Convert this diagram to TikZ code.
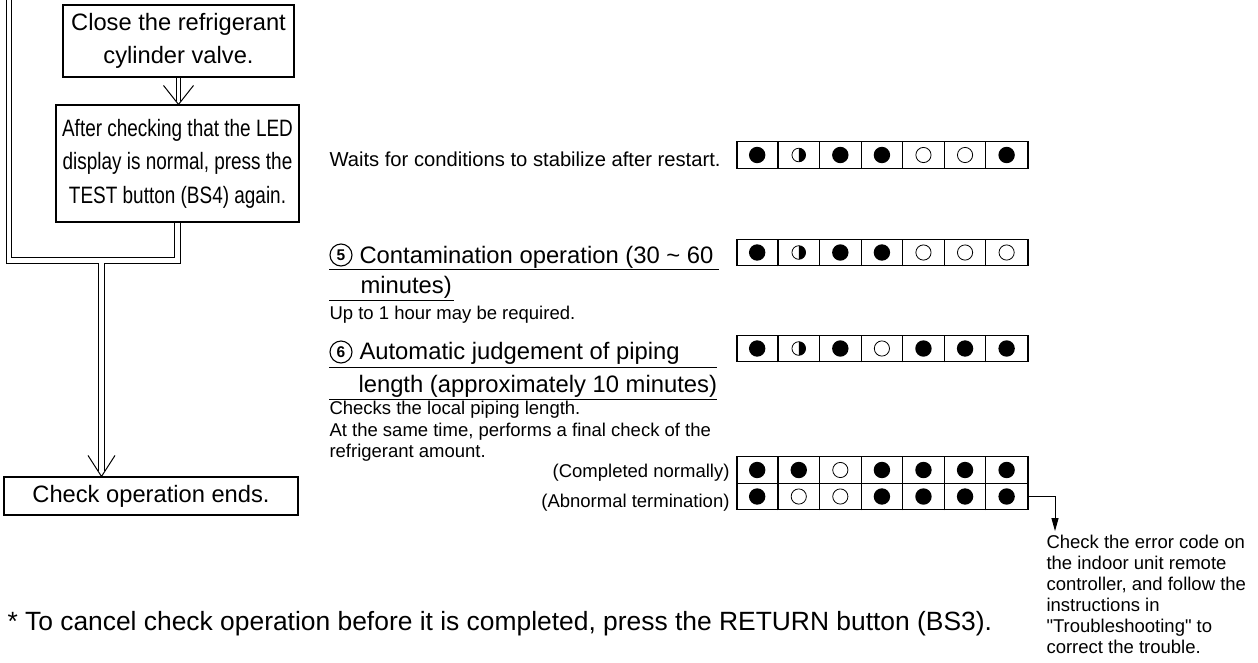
\documentclass[tikz,border=0pt]{standalone}
\usepackage{fontspec}
\setmainfont{Liberation Sans}
\newfontfamily\condfont[FakeStretch=0.8]{Liberation Sans}
\usetikzlibrary{calc,arrows.meta,backgrounds}
\newcommand\fsz[2]{\fontsize{#1}{#2}\selectfont}
\newcommand\ledcells[2]{%
  \foreach \s [count=\i] in {#2} {
    \coordinate (c) at ($(#1.west)+({41.571*(\i-0.5)},0)$);
    \ifnum\i<7 \draw[ledline] ($(#1.south west)+({41.571*\i},0)$) -- ($(#1.north west)+({41.571*\i},0)$);\fi
    \ifcase\s
      \draw[line width=0.8pt] (c) circle[radius=7.6pt];
    \or
      \fill (c) circle[radius=8.2pt];
    \or
      \draw[line width=0.8pt] (c) circle[radius=6.8pt];
      \fill (c) ++(0pt,6.8pt) arc[start angle=90,end angle=-90,radius=6.8pt] -- cycle;
    \fi
  }%
}
\tikzset{
  box/.style={draw, line width=1.1pt, inner sep=0pt, align=center, font=\fsz{23.7}{33}},
  txt/.style={inner sep=0pt, anchor=base west},
  txtr/.style={inner sep=0pt, anchor=base east},
  small/.style={font=\fsz{18.5}{21}},
  mid/.style={font=\fsz{23.8}{33}},
  ledrow/.style={draw, line width=1.2pt, minimum width=291pt, minimum height=26.6pt, inner sep=0pt},
  ledline/.style={line width=1.1pt},
  uline/.style={line width=1pt},
  circnum/.style={circle, draw, line width=1.1pt, minimum size=22pt, inner sep=0pt, font=\bfseries\fsz{15.5}{15.5}},
  vhead/.style={line width=1pt, line join=miter},
}
\begin{document}
\begin{tikzpicture}[x=1pt,y=-1pt,line width=1pt]
\useasboundingbox (0,0) rectangle (1258,662);

% flow boxes
\node[box, minimum width=231pt, minimum height=72pt] (b1) at (178.5,41) {Close the refrigerant\\cylinder valve.};
\node[box, minimum width=243pt, minimum height=117pt, font=\condfont\fsz{23.7}{33.5}] (b2) at (177.5,163.5) {After checking that the LED\\display is normal, press the\\TEST button (BS4) again.};
\node[box, minimum width=294pt, minimum height=38pt] (b3) at (151,496) {Check operation ends.};

% connectors
\coordinate (topL) at (9,-8);
\coordinate (cornerL) at (9,260.5);
\coordinate (jn) at (101.5,260.5);
\coordinate (cornerR) at (b2.south |- jn);
\coordinate (tip3) at (b3.north -| jn);
\coordinate (dEnd) at ($(tip3)+(0,-5)$);
\coordinate (tip2) at (b2.north -| b1.south);
\begin{scope}[on background layer]
  \draw[line width=6.6pt, line join=miter] (topL) -- (cornerL) -- (cornerR) -- (b2.south);
  \draw[line width=6.6pt] (jn) -- (dEnd);
  \draw[white, line width=4.6pt, line join=miter] (topL) -- (cornerL) -- (cornerR) -- (b2.south);
  \draw[white, line width=4.6pt] (jn) -- (dEnd);
  \draw[double, double distance=3.2pt, line width=0.9pt] (b1.south) -- ($(tip2)+(0,-3)$);
\end{scope}
\draw[vhead] ($(tip2)+(-15,-19)$) -- (tip2) -- ($(tip2)+(15,-19)$);
\draw[vhead] ($(tip3)+(-13.5,-21)$) -- (tip3) -- ($(tip3)+(13.5,-21)$);

% middle texts
\node[txt, font=\fsz{20.2}{21}] (wait) at (329,166) {Waits for conditions to stabilize after restart.};

\node[circnum] (c5) at (341,255) {5};
\node[txt, mid] (t5a) at (359,263) {Contamination operation (30 \textasciitilde\ 60};
\node[txt, mid] (t5b) at (360,293) {minutes)};
\draw[uline] (329,269) -- (719,269);
\draw[uline] (329,300) -- (454,300);
\node[txt, small] (t5c) at (329,319) {Up to 1 hour may be required.};

\node[circnum] (c6) at (341,352) {6};
\node[txt, mid] (t6a) at (359,359) {Automatic judgement of piping};
\node[txt, mid] (t6b) at (358,392) {length (approximately 10 minutes)};
\draw[uline] (329,367) -- (717,367);
\draw[uline] (329,399) -- (717,399);
\node[txt, small] (t6c) at (329,414) {Checks the local piping length.};
\node[txt, small] (t6d) at (329,436) {At the same time, performs a final check of the};
\node[txt, small] (t6e) at (329,457) {refrigerant amount.};
\node[txtr, small] (lnorm) at (730,477) {(Completed normally)};
\node[txtr, small] (labn) at (730,507) {(Abnormal termination)};

% LED rows
\node[ledrow] (r1) at (882.5,155) {};
\node[ledrow] (r2) at (882.5,252.5) {};
\node[ledrow] (r3) at (882.5,348.5) {};
\node[ledrow] (r4) at (882.5,470) {};
\node[ledrow] (r5) at (882.5,496.5) {};
\ledcells{r1}{1,2,1,1,0,0,1}
\ledcells{r2}{1,2,1,1,0,0,0}
\ledcells{r3}{1,2,1,0,1,1,1}
\ledcells{r4}{1,1,0,1,1,1,1}
\ledcells{r5}{1,0,0,1,1,1,1}

% error text
\node[txt, small] (e1) at (1046,548) {Check the error code on};
\node[txt, small] (e2) at (1046,569) {the indoor unit remote};
\node[txt, small] (e3) at (1046,590) {controller, and follow the};
\node[txt, small] (e4) at (1046,611) {instructions in};
\node[txt, small] (e5) at (1046,632) {\textquotedbl Troubleshooting\textquotedbl\ to};
\node[txt, small] (e6) at (1046,653) {correct the trouble.};
\coordinate (arrTip) at ($(e1.north west)+(9,-3)$);
\draw[line width=1pt, -{Triangle[length=13pt,width=7pt]}] (r5.east) -| (arrTip);

% footnote
\node[txt, font=\fsz{26.4}{30}] (foot) at (7,630) {* To cancel check operation before it is completed, press the RETURN button (BS3).};
\end{tikzpicture}
\end{document}
